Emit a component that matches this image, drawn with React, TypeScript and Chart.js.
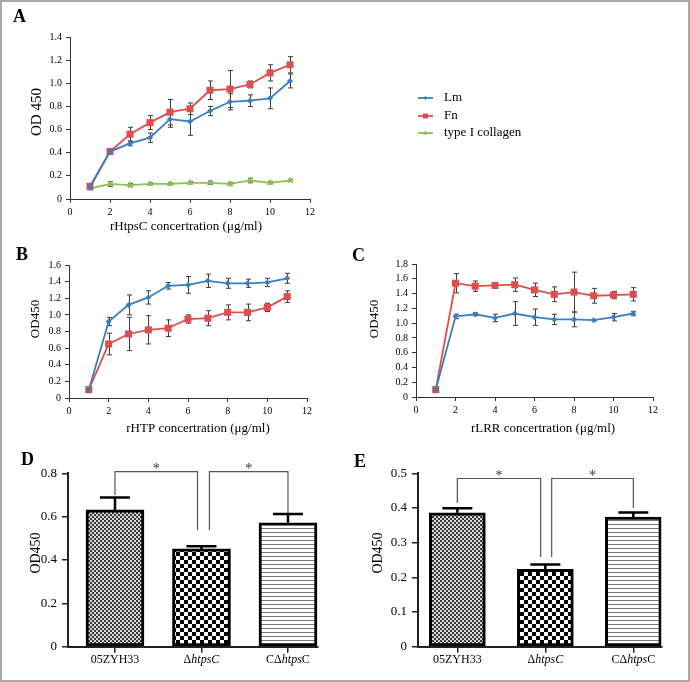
import React, { useEffect, useRef } from "react";
import { Chart, registerables } from "chart.js";
Chart.register(...registerables);

const SERIF = "'Liberation Serif', 'Times New Roman', Times, serif";
Chart.defaults.font.family = SERIF;
Chart.defaults.color = "#000";

// ---------------- data ----------------
const concentrations = [1, 2, 3, 4, 5, 6, 7, 8, 9, 10, 11];

// Panel A (rHtpsC)
const aLm = [0.1, 0.41, 0.48, 0.53, 0.69, 0.67, 0.76, 0.84, 0.85, 0.87, 1.02];
const aLmErr = [0.01, 0.01, 0.02, 0.04, 0.07, 0.12, 0.04, 0.07, 0.05, 0.09, 0.06];
const aFn = [0.11, 0.41, 0.56, 0.66, 0.75, 0.78, 0.94, 0.95, 0.99, 1.09, 1.16];
const aFnErr = [0.01, 0.01, 0.06, 0.06, 0.11, 0.05, 0.08, 0.16, 0.03, 0.07, 0.07];
const aCol = [0.09, 0.13, 0.12, 0.13, 0.13, 0.14, 0.14, 0.13, 0.16, 0.14, 0.16];
const aColErr = [0.01, 0.02, 0.015, 0.01, 0.01, 0.01, 0.015, 0.015, 0.02, 0.01, 0.01];

// Panel B (rHTP)
const bLm = [0.1, 0.92, 1.12, 1.21, 1.35, 1.36, 1.41, 1.38, 1.38, 1.39, 1.44];
const bLmErr = [0.01, 0.05, 0.12, 0.08, 0.04, 0.1, 0.08, 0.06, 0.05, 0.05, 0.06];
const bFn = [0.1, 0.65, 0.77, 0.82, 0.84, 0.95, 0.96, 1.03, 1.03, 1.09, 1.22];
const bFnErr = [0.01, 0.13, 0.2, 0.17, 0.1, 0.05, 0.09, 0.09, 0.1, 0.05, 0.07];

// Panel C (rLRR)
const cLm = [0.1, 1.09, 1.12, 1.07, 1.13, 1.08, 1.05, 1.05, 1.04, 1.08, 1.13];
const cLmErr = [0.01, 0.03, 0.02, 0.05, 0.16, 0.11, 0.07, 0.1, 0.01, 0.05, 0.03];
const cFn = [0.1, 1.54, 1.5, 1.51, 1.52, 1.45, 1.39, 1.42, 1.37, 1.38, 1.39];
const cFnErr = [0.01, 0.13, 0.07, 0.02, 0.09, 0.09, 0.1, 0.27, 0.1, 0.05, 0.09];

// Panels D and E (bars)
const strains = ["05ZYH33", "ΔhtpsC", "CΔhtpsC"];
const strainLabelParts: [string, boolean][][] = [
  [["05ZYH33", false]],
  [["Δ", false], ["htpsC", true]],
  [["CΔ", false], ["htps", true], ["C", false]],
];
const dValues = [0.631, 0.451, 0.572];
const dErr = [0.057, 0.013, 0.04];
const eValues = [0.386, 0.223, 0.374];
const eErr = [0.013, 0.014, 0.013];

// significance brackets: [fromIndex, fromShift, fromBottom, toIndex, toShift, toBottom, top]
const dBrackets = [
  [0, 0, 0.7, 1, -0.046, 0.538, 0.808],
  [1, 0.092, 0.538, 2, 0, 0.617, 0.808],
];
const eBrackets = [
  [0, 0, 0.414, 1, -0.053, 0.259, 0.485],
  [1, 0.072, 0.259, 2, 0, 0.4, 0.485],
];

// ---------------- helpers ----------------
type Rect = { x: number; y: number; w: number; h: number };
type Area = { left: number; top: number; right: number; bottom: number };
type TextItem = { text: string; x: number; y: number; size: number; bold?: boolean; rotate?: boolean; align?: CanvasTextAlign };

const BLUE = "#3a7ebf";
const RED = "#dd4f4f";
const GREEN = "#8fc053";
const AXIS = "#333";

function textPlugin(rect: Rect, items: TextItem[]) {
  return {
    id: "panelText",
    afterDraw(chart: any) {
      const ctx = chart.ctx;
      items.forEach((t) => {
        ctx.save();
        ctx.fillStyle = "#000";
        ctx.font = `${t.bold ? "bold " : ""}${t.size}px ${SERIF}`;
        ctx.textAlign = t.align || "center";
        ctx.textBaseline = "middle";
        ctx.translate(t.x - rect.x, t.y - rect.y);
        if (t.rotate) ctx.rotate(-Math.PI / 2);
        ctx.fillText(t.text, 0, 0);
        ctx.restore();
      });
    },
  };
}

function drawMarker(ctx: CanvasRenderingContext2D, style: string, x: number, y: number, r: number) {
  ctx.beginPath();
  if (style === "rect") {
    const s = Math.SQRT1_2 * r;
    ctx.rect(x - s, y - s, 2 * s, 2 * s);
  } else if (style === "rectRot") {
    ctx.moveTo(x, y - r);
    ctx.lineTo(x + r, y);
    ctx.lineTo(x, y + r);
    ctx.lineTo(x - r, y);
    ctx.closePath();
  } else {
    const h = r * 1.5;
    ctx.moveTo(x, y - r);
    ctx.lineTo(x + r * 0.87, y + h - r);
    ctx.lineTo(x - r * 0.87, y + h - r);
    ctx.closePath();
  }
  ctx.fill();
}

function legendPlugin(rect: Rect, x: number, ys: number[], size: number) {
  return {
    id: "customLegend",
    afterDraw(chart: any) {
      const ctx = chart.ctx;
      chart.data.datasets.forEach((ds: any, i: number) => {
        const y = ys[i] - rect.y;
        const x0 = x - rect.x;
        ctx.save();
        ctx.strokeStyle = ds.borderColor;
        ctx.fillStyle = ds.borderColor;
        ctx.lineWidth = 1.8;
        ctx.beginPath();
        ctx.moveTo(x0, y);
        ctx.lineTo(x0 + 15, y);
        ctx.stroke();
        drawMarker(ctx, ds.pointStyle, x0 + 7.5, y, ds.pointRadius * 0.7);
        ctx.fillStyle = "#000";
        ctx.font = `${size}px ${SERIF}`;
        ctx.textAlign = "left";
        ctx.textBaseline = "middle";
        ctx.fillText(ds.label, x0 + 26, y);
        ctx.restore();
      });
    },
  };
}

const lineErrorPlugin = {
  id: "lineErr",
  beforeDatasetsDraw(chart: any) {
    const ctx = chart.ctx;
    const ys = chart.scales.y;
    ctx.save();
    ctx.strokeStyle = "#3c3c3c";
    ctx.lineWidth = 1;
    chart.data.datasets.forEach((ds: any, i: number) => {
      const meta = chart.getDatasetMeta(i);
      meta.data.forEach((el: any, j: number) => {
        const v = ds.data[j].y;
        const e = ds.errors[j];
        const x = Math.round(el.x) + 0.5;
        const top = ys.getPixelForValue(v + e);
        const bot = ys.getPixelForValue(v - e);
        ctx.beginPath();
        ctx.moveTo(x, top);
        ctx.lineTo(x, bot);
        ctx.moveTo(x - 2.5, top);
        ctx.lineTo(x + 2.5, top);
        ctx.moveTo(x - 2.5, bot);
        ctx.lineTo(x + 2.5, bot);
        ctx.stroke();
      });
    });
    ctx.restore();
  },
};

function barErrorPlugin(errors: number[], capHalf: number) {
  return {
    id: "barErr",
    afterDatasetsDraw(chart: any) {
      const ctx = chart.ctx;
      const ys = chart.scales.y;
      const ds = chart.data.datasets[0];
      const meta = chart.getDatasetMeta(0);
      ctx.save();
      ctx.strokeStyle = "#000";
      ctx.lineWidth = 2.5;
      meta.data.forEach((bar: any, i: number) => {
        const v = ds.data[i].y;
        const top = ys.getPixelForValue(v + errors[i]);
        ctx.beginPath();
        ctx.moveTo(bar.x, bar.y);
        ctx.lineTo(bar.x, top);
        ctx.moveTo(bar.x - capHalf, top);
        ctx.lineTo(bar.x + capHalf, top);
        ctx.stroke();
      });
      ctx.restore();
    },
  };
}

function bracketPlugin(brackets: number[][]) {
  return {
    id: "brackets",
    afterDraw(chart: any) {
      const ctx = chart.ctx;
      const xs = chart.scales.x;
      const ys = chart.scales.y;
      ctx.save();
      ctx.strokeStyle = "#555";
      ctx.lineWidth = 1.2;
      brackets.forEach((b) => {
        const [fi, fs, fb, ti, ts, tb, top] = b;
        const x1 = xs.getPixelForValue(fi + fs);
        const x2 = xs.getPixelForValue(ti + ts);
        const yt = ys.getPixelForValue(top);
        ctx.beginPath();
        ctx.moveTo(x1, ys.getPixelForValue(fb));
        ctx.lineTo(x1, yt);
        ctx.lineTo(x2, yt);
        ctx.lineTo(x2, ys.getPixelForValue(tb));
        ctx.stroke();
        ctx.fillStyle = "#333";
        ctx.font = `14px ${SERIF}`;
        ctx.textAlign = "center";
        ctx.textBaseline = "alphabetic";
        ctx.fillText("*", (x1 + x2) / 2, yt + 1.5);
      });
      ctx.restore();
    },
  };
}

function strainLabelPlugin(size: number, gap: number) {
  return {
    id: "strainLabels",
    afterDraw(chart: any) {
      const ctx = chart.ctx;
      const xs = chart.scales.x;
      const y = chart.chartArea.bottom + gap;
      ctx.save();
      ctx.fillStyle = "#000";
      ctx.textBaseline = "middle";
      ctx.textAlign = "left";
      strains.forEach((_, i) => {
        const parts = strainLabelParts[i];
        const font = (it: boolean) => `${it ? "italic " : ""}${size}px ${SERIF}`;
        let total = 0;
        parts.forEach(([t, it]) => {
          ctx.font = font(it);
          total += ctx.measureText(t).width;
        });
        let x = xs.getPixelForValue(i) - total / 2;
        parts.forEach(([t, it]) => {
          ctx.font = font(it);
          ctx.fillText(t, x, y);
          x += ctx.measureText(t).width;
        });
      });
      ctx.restore();
    },
  };
}

function frameOpts(rect: Rect, area: Area) {
  return {
    padding: { left: 0, bottom: 0, top: area.top - rect.y, right: rect.x + rect.w - area.right },
    yFit: (s: any) => {
      s.width = area.left - rect.x;
    },
    xFit: (s: any) => {
      s.height = rect.y + rect.h - area.bottom;
    },
  };
}

type Series = { label: string; values: number[]; errors: number[]; color: string; marker: string; radius: number };

function lineConfig(rect: Rect, area: Area, series: Series[], yMax: number, texts: TextItem[], extra: any[] = []) {
  const f = frameOpts(rect, area);
  return {
    type: "line",
    data: {
      datasets: series.map((s) => ({
        label: s.label,
        data: concentrations.map((c, i) => ({ x: c, y: s.values[i] })),
        errors: s.errors,
        borderColor: s.color,
        backgroundColor: s.color,
        pointBackgroundColor: s.color,
        pointBorderColor: s.color,
        pointBorderWidth: 0,
        pointStyle: s.marker,
        pointRadius: s.radius,
        borderWidth: 1.8,
        tension: 0,
      })),
    },
    options: {
      responsive: false,
      animation: false,
      events: [],
      layout: { padding: f.padding },
      plugins: { legend: { display: false }, tooltip: { enabled: false } },
      scales: {
        x: {
          type: "linear",
          min: 0,
          max: 12,
          ticks: { stepSize: 2, font: { size: 10 }, color: "#000", padding: 3, autoSkip: false, maxRotation: 0 },
          grid: { drawOnChartArea: false, drawTicks: true, tickLength: 4, color: AXIS },
          border: { display: true, color: AXIS, width: 1 },
          afterFit: f.xFit,
        },
        y: {
          type: "linear",
          min: 0,
          max: yMax,
          ticks: { stepSize: 0.2, font: { size: 10 }, color: "#000", padding: 4, autoSkip: false },
          grid: { drawOnChartArea: false, drawTicks: true, tickLength: 4, color: AXIS },
          border: { display: true, color: AXIS, width: 1 },
          afterFit: f.yFit,
        },
      },
    },
    plugins: [lineErrorPlugin, textPlugin(rect, texts), ...extra],
  };
}

function makePattern(kind: string): CanvasPattern {
  const c = document.createElement("canvas");
  const g = c.getContext("2d")!;
  if (kind === "fine") {
    c.width = 4;
    c.height = 4;
    g.fillStyle = "#d8d8d8";
    g.fillRect(0, 0, 4, 4);
    g.fillStyle = "#3a3a3a";
    g.fillRect(0, 0, 2, 2);
    g.fillRect(2, 2, 2, 2);
  } else if (kind === "checker") {
    c.width = 8;
    c.height = 8;
    g.fillStyle = "#fff";
    g.fillRect(0, 0, 8, 8);
    g.fillStyle = "#000";
    g.fillRect(0, 0, 4, 4);
    g.fillRect(4, 4, 4, 4);
  } else {
    c.width = 4;
    c.height = 4;
    g.fillStyle = "#fff";
    g.fillRect(0, 0, 4, 4);
    g.fillStyle = "#777";
    g.fillRect(0, 0, 4, 1);
  }
  return g.createPattern(c, "repeat")!;
}

function barConfig(
  rect: Rect,
  area: Area,
  values: number[],
  errors: number[],
  brackets: number[][],
  xMin: number,
  xMax: number,
  yMax: number,
  yStep: number,
  thickness: number,
  texts: TextItem[]
) {
  const f = frameOpts(rect, area);
  return {
    type: "bar",
    data: {
      datasets: [
        {
          label: "OD450",
          data: strains.map((_, i) => ({ x: i, y: values[i] })),
          backgroundColor: [makePattern("fine"), makePattern("checker"), makePattern("lines")],
          borderColor: "#000",
          borderWidth: 3,
          borderSkipped: false,
          barThickness: thickness,
        },
      ],
    },
    options: {
      responsive: false,
      animation: false,
      events: [],
      layout: { padding: f.padding },
      plugins: { legend: { display: false }, tooltip: { enabled: false } },
      scales: {
        x: {
          type: "linear",
          min: xMin,
          max: xMax,
          offset: false,
          ticks: { display: false },
          afterBuildTicks: (s: any) => {
            s.ticks = strains.map((_, i) => ({ value: i }));
          },
          grid: { offset: false, drawOnChartArea: false, drawTicks: true, tickLength: 6, color: "#222", lineWidth: 1.5 },
          border: { display: true, color: "#222", width: 2 },
          afterFit: f.xFit,
        },
        y: {
          type: "linear",
          min: 0,
          max: yMax,
          ticks: { stepSize: yStep, font: { size: 13 }, color: "#000", padding: 5, autoSkip: false },
          grid: { drawOnChartArea: false, drawTicks: true, tickLength: 6, color: "#222", lineWidth: 1.5 },
          border: { display: true, color: "#222", width: 2 },
          afterFit: f.yFit,
        },
      },
    },
    plugins: [barErrorPlugin(errors, 15), bracketPlugin(brackets), strainLabelPlugin(12, 13.5), textPlugin(rect, texts)],
  };
}

// ---------------- layout ----------------
const rA: Rect = { x: 0, y: 0, w: 690, h: 240 };
const rB: Rect = { x: 0, y: 240, w: 340, h: 200 };
const rC: Rect = { x: 340, y: 240, w: 350, h: 200 };
const rD: Rect = { x: 0, y: 440, w: 340, h: 242 };
const rE: Rect = { x: 340, y: 440, w: 350, h: 242 };

export default function App() {
  const refA = useRef<HTMLCanvasElement>(null);
  const refB = useRef<HTMLCanvasElement>(null);
  const refC = useRef<HTMLCanvasElement>(null);
  const refD = useRef<HTMLCanvasElement>(null);
  const refE = useRef<HTMLCanvasElement>(null);

  useEffect(() => {
    const charts: Chart[] = [];
    const lmA: Series = { label: "Lm", values: aLm, errors: aLmErr, color: BLUE, marker: "rectRot", radius: 3 };
    const fnA: Series = { label: "Fn", values: aFn, errors: aFnErr, color: RED, marker: "rect", radius: 5 };
    const colA: Series = { label: "type I collagen", values: aCol, errors: aColErr, color: GREEN, marker: "triangle", radius: 4 };

    charts.push(
      new Chart(
        refA.current!,
        lineConfig(
          rA,
          { left: 70, top: 37, right: 310, bottom: 199 },
          [lmA, fnA, colA],
          1.4,
          [
            { text: "A", x: 13, y: 17.5, size: 18, bold: true, align: "left" },
            { text: "OD 450", x: 37, y: 112, size: 15, rotate: true },
            { text: "rHtpsC concertration (μg/ml)", x: 186, y: 226.5, size: 13 },
          ],
          [legendPlugin(rA, 418, [98, 116, 133], 13)]
        ) as any
      )
    );
    charts.push(
      new Chart(
        refB.current!,
        lineConfig(
          rB,
          { left: 69, top: 265, right: 307, bottom: 398 },
          [
            { label: "Lm", values: bLm, errors: bLmErr, color: BLUE, marker: "rectRot", radius: 3 },
            { label: "Fn", values: bFn, errors: bFnErr, color: RED, marker: "rect", radius: 5 },
          ],
          1.6,
          [
            { text: "B", x: 16, y: 255, size: 18, bold: true, align: "left" },
            { text: "OD450", x: 36, y: 319, size: 13, rotate: true },
            { text: "rHTP concertration (μg/ml)", x: 198, y: 428.5, size: 13 },
          ]
        ) as any
      )
    );
    charts.push(
      new Chart(
        refC.current!,
        lineConfig(
          rC,
          { left: 416, top: 264, right: 653, bottom: 397 },
          [
            { label: "Lm", values: cLm, errors: cLmErr, color: BLUE, marker: "rectRot", radius: 3 },
            { label: "Fn", values: cFn, errors: cFnErr, color: RED, marker: "rect", radius: 5 },
          ],
          1.8,
          [
            { text: "C", x: 352, y: 256, size: 18, bold: true, align: "left" },
            { text: "OD450", x: 375, y: 319, size: 13, rotate: true },
            { text: "rLRR concertration (μg/ml)", x: 543, y: 428.5, size: 13 },
          ]
        ) as any
      )
    );
    charts.push(
      new Chart(
        refD.current!,
        barConfig(rD, { left: 68, top: 473.3, right: 318, bottom: 646.7 }, dValues, dErr, dBrackets, -0.543, 2.347, 0.8, 0.2, 58, [
          { text: "D", x: 21, y: 460, size: 18, bold: true, align: "left" },
          { text: "OD450", x: 36, y: 553, size: 14, rotate: true },
        ]) as any
      )
    );
    charts.push(
      new Chart(
        refE.current!,
        barConfig(rE, { left: 418, top: 473.3, right: 661.5, bottom: 646.7 }, eValues, eErr, eBrackets, -0.447, 2.32, 0.5, 0.1, 56, [
          { text: "E", x: 354, y: 462, size: 18, bold: true, align: "left" },
          { text: "OD450", x: 378, y: 553, size: 14, rotate: true },
        ]) as any
      )
    );
    return () => charts.forEach((c) => c.destroy());
  }, []);

  const cv = (r: Rect, ref: any) => (
    <canvas ref={ref} width={r.w} height={r.h} style={{ position: "absolute", left: r.x, top: r.y, width: r.w, height: r.h, display: "block" }} />
  );

  return (
    <div style={{ position: "fixed", left: 0, top: 0, width: 690, height: 682, background: "#fff", overflow: "hidden" }}>
      {cv(rA, refA)}
      {cv(rB, refB)}
      {cv(rC, refC)}
      {cv(rD, refD)}
      {cv(rE, refE)}
      <div
        style={{
          position: "absolute",
          left: 0,
          top: 0,
          width: 690,
          height: 682,
          boxSizing: "border-box",
          border: "2px solid #a9a9a9",
          pointerEvents: "none",
        }}
      />
    </div>
  );
}
